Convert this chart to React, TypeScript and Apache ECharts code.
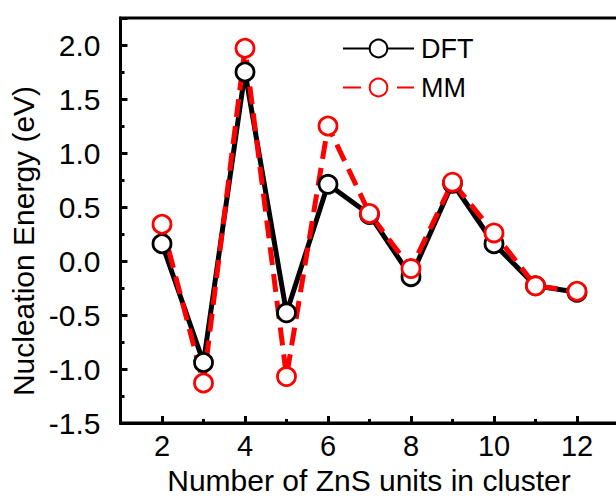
import React, { useEffect, useRef } from "react";
import * as echarts from "echarts";

const FONT = '"Liberation Sans", Arial, Helvetica, sans-serif';

const clusterSizes = [2, 3, 4, 5, 6, 7, 8, 9, 10, 11, 12];
const dftValues = [0.16, -0.94, 1.75, -0.48, 0.71, 0.43, -0.145, 0.72, 0.16, -0.23, -0.29];
const mmValues = [0.34, -1.13, 1.97, -1.07, 1.25, 0.44, -0.07, 0.73, 0.26, -0.23, -0.28];
const xMajorTicks = [2, 4, 6, 8, 10, 12];
const seriesNames = ["DFT", "MM"];
const yTitle = "Nucleation Energy (eV)";
const xTitle = "Number of ZnS units in cluster";

export default function App() {
  const ref = useRef<HTMLDivElement>(null);

  useEffect(() => {
    if (!ref.current) return;
    const chart = echarts.init(ref.current, null, { renderer: "svg" });
    const tickStyle = { color: "#000", width: 3 };
    const option = {
      animation: false,
      backgroundColor: "#fff",
      grid: {
        left: 120.5,
        top: 18,
        width: 498,
        height: 405,
        show: true,
        borderColor: "#000",
        borderWidth: 3,
        backgroundColor: "transparent",
        outerBoundsMode: "none",
      },
      legend: {
        orient: "vertical",
        left: 337,
        top: 30,
        itemWidth: 71,
        itemHeight: 22,
        itemGap: 12,
        data: seriesNames,
        textStyle: { fontFamily: FONT, fontSize: 27, color: "#000", padding: [0, 0, 0, 2] },
      },
      graphic: [
        {
          type: "text",
          x: 23,
          y: 241,
          rotation: Math.PI / 2,
          style: {
            text: yTitle,
            fontFamily: FONT,
            fontSize: 30,
            fill: "#000",
            align: "center",
            verticalAlign: "middle",
          },
        },
        {
          type: "text",
          x: 369,
          y: 480,
          style: {
            text: xTitle,
            fontFamily: FONT,
            fontSize: 30,
            fill: "#000",
            align: "center",
            verticalAlign: "middle",
          },
        },
      ],
      xAxis: [
        {
          type: "value",
          min: 1,
          max: 13,
          interval: 1,
          axisLine: { show: true, onZero: false, lineStyle: tickStyle },
          axisTick: { show: true, inside: true, length: 4, lineStyle: tickStyle },
          splitLine: { show: false },
          axisLabel: {
            fontFamily: FONT,
            fontSize: 29,
            color: "#000",
            margin: 8,
            formatter: (v: number) => (xMajorTicks.includes(v) ? String(v) : ""),
          },
        },
        {
          type: "value",
          position: "bottom",
          min: 1,
          max: 13,
          interval: 1,
          axisLine: { show: false, onZero: false },
          axisTick: { show: true, inside: true, length: 7, lineStyle: tickStyle, customValues: xMajorTicks },
          axisLabel: { show: false },
          splitLine: { show: false },
        },
      ],
      yAxis: {
        type: "value",
        min: -1.5,
        max: 2.25,
        interval: 0.5,
        axisLine: { show: true, onZero: false, lineStyle: tickStyle },
        axisTick: { show: true, inside: true, length: 7, lineStyle: tickStyle },
        minorTick: { show: true, splitNumber: 2, length: 4, lineStyle: tickStyle },
        splitLine: { show: false },
        axisLabel: {
          fontFamily: FONT,
          fontSize: 30,
          color: "#000",
          margin: 20,
          formatter: (v: number) =>
            Math.abs(v * 2 - Math.round(v * 2)) < 1e-6 ? v.toFixed(1) : "",
        },
      },
      series: [
        {
          name: seriesNames[0],
          type: "line",
          xAxisIndex: 0,
          data: clusterSizes.map((x, i) => [x, dftValues[i]]),
          color: "#000",
          symbol: "circle",
          symbolSize: 18,
          lineStyle: { color: "#000", width: 5 },
          itemStyle: { color: "#fff", borderColor: "#000", borderWidth: 2.8 },
        },
        {
          name: seriesNames[1],
          type: "line",
          xAxisIndex: 0,
          data: clusterSizes.map((x, i) => [x, mmValues[i]]),
          color: "#f00",
          symbol: "circle",
          symbolSize: 18,
          lineStyle: { color: "#f00", width: 5, type: [18, 9] },
          itemStyle: { color: "#fff", borderColor: "#f00", borderWidth: 2.8 },
        },
      ],
    };
    chart.setOption(option as any);
    return () => chart.dispose();
  }, []);

  return (
    <div
      ref={ref}
      style={{ position: "absolute", left: 0, top: 0, width: 616, height: 496 }}
    />
  );
}
